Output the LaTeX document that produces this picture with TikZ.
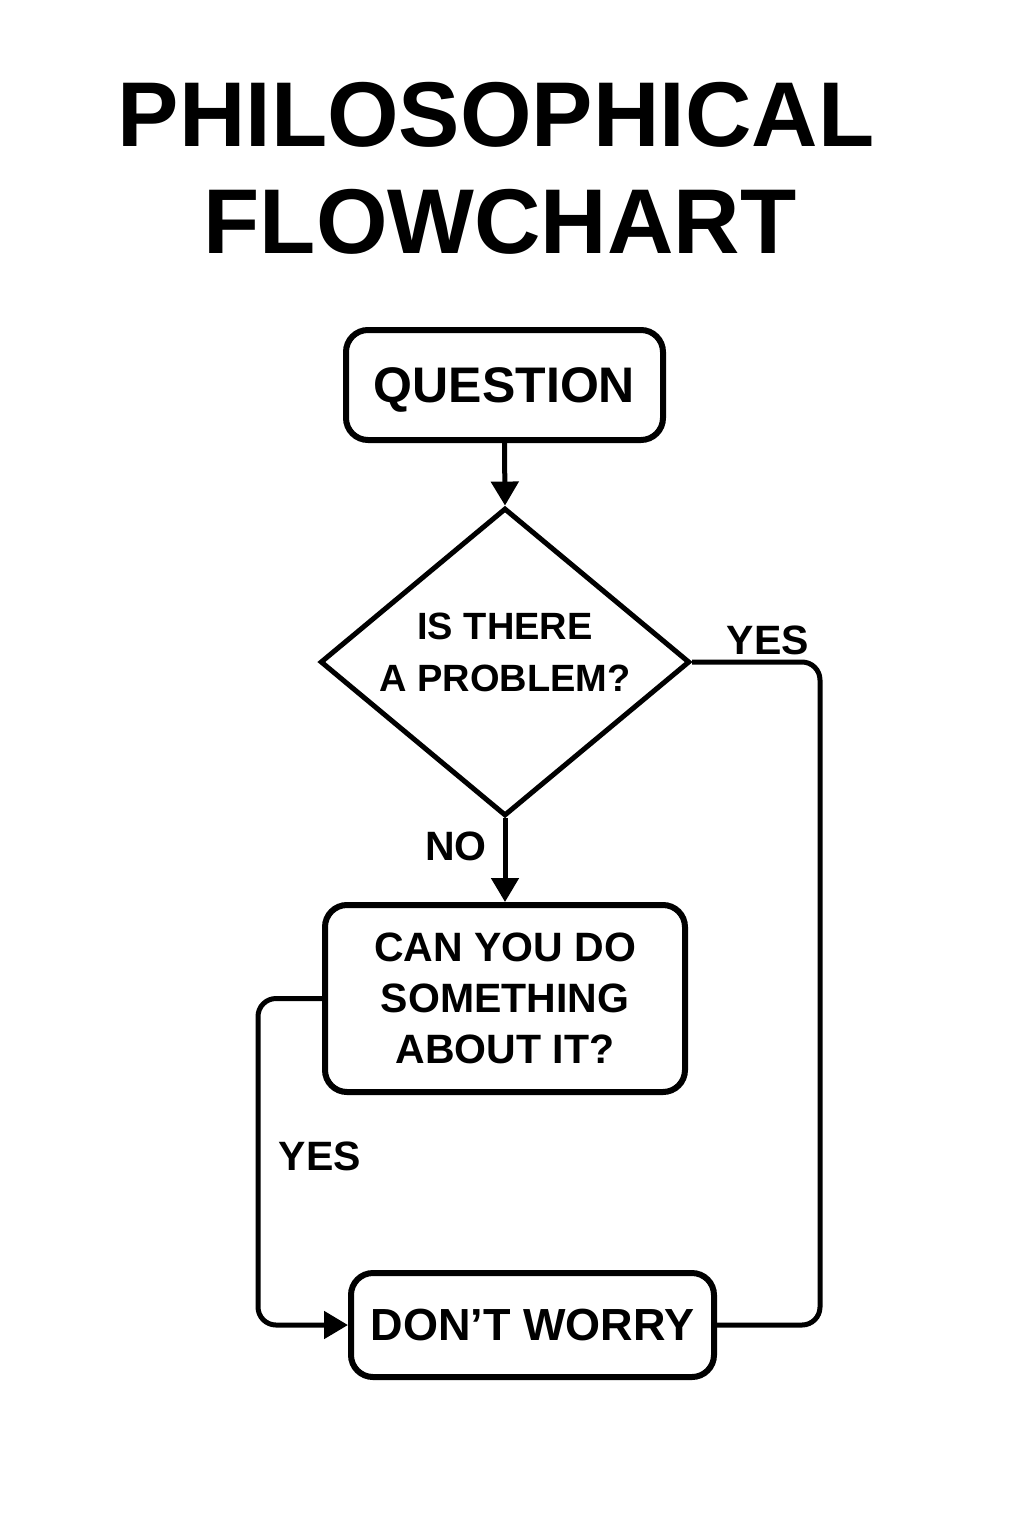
\documentclass[tikz,border=0pt]{standalone}
\usepackage{fontspec}
\setmainfont{Liberation Sans}
\usetikzlibrary{shapes.geometric,arrows.meta}

\begin{document}
\begin{tikzpicture}[x=1pt,y=-1pt,
        box/.style={draw,line width=6pt,rounded corners=22pt,inner sep=0pt,align=center,
            font=\fontsize{41}{51}\selectfont\bfseries},
        choice/.style={draw,diamond,aspect=1.2,line width=5pt,inner sep=0pt,align=center,
            font=\fontsize{38}{52}\selectfont\bfseries},
        flow/.style={line width=5pt,rounded corners=18pt},
        tip/.style={-{Triangle[width=27pt,length=24pt]}},
        lbl/.style={font=\fontsize{41}{41}\selectfont\bfseries}]
        \fill[white] (0,0) rectangle (1024,1536);
        % title
        \node[font=\fontsize{92}{92}\selectfont\bfseries] (title1) at (496,115) {PHILOSOPHICAL};
        \node[font=\fontsize{92}{92}\selectfont\bfseries] (title2) at (500,222) {FLOWCHART};
        % steps
        \node[box,minimum width=317pt,minimum height=110pt,text depth=0pt,
            font=\fontsize{50}{50}\selectfont\bfseries] (q) at (504.5,385) {QUESTION};
        \node[choice,minimum width=366pt,minimum height=305pt,text depth=20pt] (d) at (505,662)
            {IS THERE\\A PROBLEM?};
        \node[box,minimum width=360pt,minimum height=187pt] (c) at (505,998.5)
            {CAN YOU DO\\SOMETHING\\ABOUT IT?};
        \node[box,minimum width=363pt,minimum height=104pt,text depth=0pt,
            font=\fontsize{45}{45}\selectfont\bfseries] (w) at (532.5,1325) {DON’T WORRY};
        % connectors
        \coordinate (yesturn) at (820,1325);
        \coordinate (leftturn) at (258,1325);
        \draw[flow,tip] (q.south) -- (d.north);
        \draw[flow,tip] (d.south) -- (c.north);
        \draw[flow] (d.east) -| (yesturn) -- (w.east);
        \draw[flow,tip] (c.west) -| (leftturn) -- (w.west);
        % answers
        \node[lbl] (yes1) at (768,640) {YES};
        \node[lbl] (no) at (456,846) {NO};
        \node[lbl] (yes2) at (320,1156) {YES};
\end{tikzpicture}
\end{document}
